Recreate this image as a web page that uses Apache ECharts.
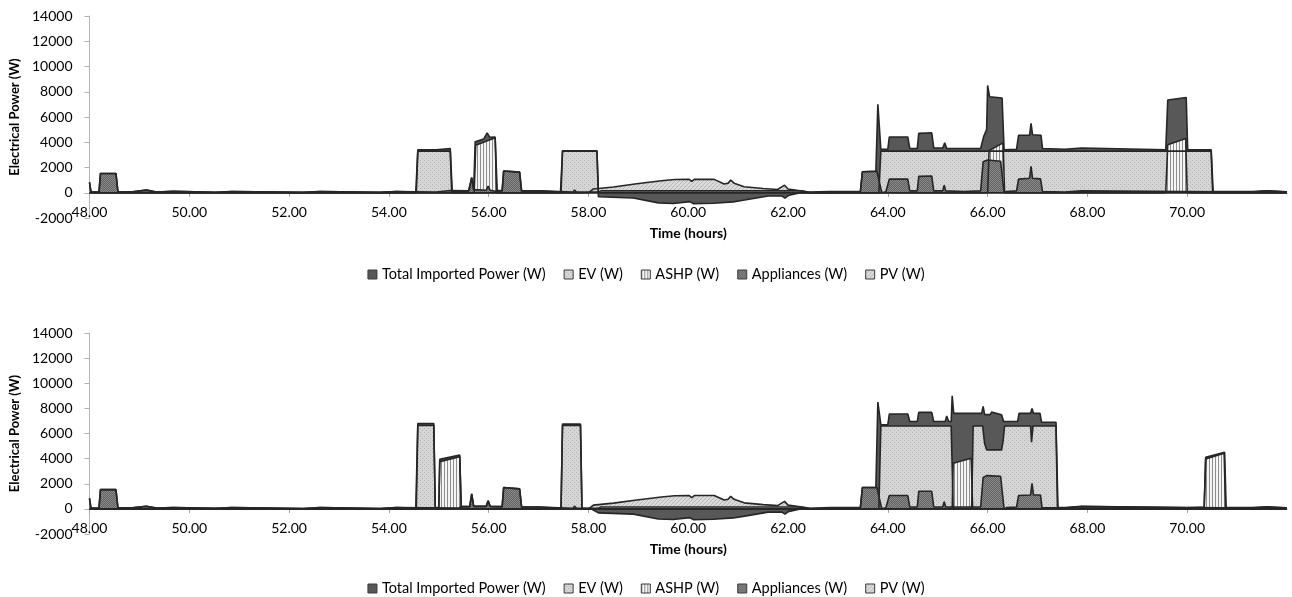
<!DOCTYPE html>
<html>
<head>
<meta charset="utf-8">
<script src="https://cdn.jsdelivr.net/npm/echarts@6/dist/echarts.min.js"></script>
<style>
html,body{margin:0;padding:0;background:#fff;}
#chart{width:1292px;height:597px;}
</style>
</head>
<body>
<div id="chart"></div>
<script>
// ---------- DATA ----------
const seriesNames = ['Total Imported Power (W)', 'EV (W)', 'ASHP (W)', 'Appliances (W)', 'PV (W)'];
const yTicks = [-2000, 0, 2000, 4000, 6000, 8000, 10000, 12000, 14000];
const xTicks = [48, 50, 52, 54, 56, 58, 60, 62, 64, 66, 68, 70];

// Top panel  [time (h), power (W)]
const topTotal = [[48.00,850],[48.03,60],[48.19,60],[48.22,1530],[48.53,1530],[48.57,80],[48.86,80],[48.88,210],[49.14,210],[49.16,60],[49.34,60],[49.36,110],[49.68,110],[49.70,40],[50.53,40],[50.55,100],[50.85,100],[50.87,30],[52.29,30],[52.31,100],[52.62,100],[52.64,30],[53.82,30],[53.84,100],[54.15,100],[54.17,60],[54.54,60],[54.58,3400],[54.95,3400],[54.97,3500],[55.23,3500],[55.27,100],[55.60,150],[55.66,1200],[55.70,250],[55.73,4030],[55.90,4250],[55.97,4740],[56.02,4400],[56.13,4420],[56.17,200],[56.27,150],[56.30,1720],[56.62,1630],[56.66,150],[57.00,150],[57.04,50],[57.44,50],[57.48,3320],[58.17,3320],[58.20,-320],[58.90,-420],[59.40,-800],[59.70,-850],[60.03,-700],[60.10,-860],[60.50,-830],[60.90,-720],[61.13,-580],[61.60,-260],[61.88,-260],[61.94,-420],[62.00,-220],[62.25,0],[62.80,0],[62.84,100],[63.45,100],[63.49,1660],[63.76,1700],[63.80,7000],[63.86,3450],[64.00,3450],[64.03,4420],[64.40,4420],[64.44,3500],[64.59,3500],[64.62,4700],[64.88,4750],[64.92,3550],[65.10,3550],[65.14,3950],[65.18,3500],[65.86,3500],[65.92,4450],[65.98,5000],[66.00,8500],[66.04,7600],[66.29,7500],[66.33,3400],[66.58,3450],[66.62,4550],[66.84,4550],[66.87,5500],[66.90,4600],[67.07,4550],[67.10,3500],[67.55,3450],[67.58,3550],[67.88,3550],[67.91,3400],[69.57,3400],[69.61,7350],[69.98,7550],[70.01,3400],[70.48,3400],[70.52,100],[71.30,100],[71.33,160],[71.60,160],[71.63,80],[72.00,80]];
const topEV = [[48,0],[54.55,0],[54.58,3300],[55.23,3300],[55.26,0],[57.45,0],[57.48,3300],[58.17,3300],[58.20,0],[63.82,0],[63.86,3300],[70.48,3300],[70.51,0],[72,0]];
const topASHP = [[48,0],[55.71,0],[55.74,3770],[56.13,4350],[56.16,0],[66.00,0],[66.03,3350],[66.31,3950],[66.34,0],[69.57,0],[69.61,3800],[69.97,4300],[70.00,0],[72,0]];
const topApp = [[48.00,800],[48.03,50],[48.19,50],[48.22,1530],[48.53,1530],[48.57,80],[48.86,80],[48.88,210],[49.14,210],[49.16,60],[49.34,60],[49.36,110],[49.68,110],[49.70,40],[50.53,40],[50.55,100],[50.85,100],[50.87,30],[52.29,30],[52.31,100],[52.62,100],[52.64,30],[53.82,30],[53.84,100],[54.15,100],[54.17,60],[54.95,60],[54.97,180],[55.23,180],[55.27,100],[55.60,150],[55.66,1200],[55.70,250],[55.95,200],[55.99,530],[56.03,200],[56.14,120],[56.27,150],[56.30,1720],[56.62,1630],[56.66,150],[57.00,150],[57.04,50],[57.69,50],[57.72,220],[57.76,50],[58.20,50],[58.25,150],[62.25,150],[62.40,50],[62.84,100],[63.45,100],[63.49,1660],[63.78,1700],[63.88,0],[63.96,80],[64.00,80],[64.03,1080],[64.40,1080],[64.44,150],[64.59,150],[64.62,1300],[64.88,1330],[64.92,150],[65.10,150],[65.13,600],[65.16,150],[65.52,100],[65.86,150],[65.91,2450],[66.00,2600],[66.26,2500],[66.33,0],[66.38,100],[66.58,150],[66.62,1080],[66.84,1150],[66.87,2100],[66.90,1150],[67.06,1100],[67.10,100],[67.55,60],[67.58,150],[67.88,150],[67.91,60],[71.30,60],[71.33,150],[71.60,150],[71.63,60],[72,60]];
const topPV = [[48,0],[58.00,0],[58.03,120],[58.10,300],[58.50,460],[58.93,690],[59.46,950],[59.73,1050],[60.02,1060],[60.07,900],[60.12,1060],[60.52,1060],[60.72,700],[60.80,760],[60.85,1000],[60.92,760],[61.12,480],[61.50,340],[61.79,260],[61.93,600],[62.00,300],[62.38,80],[62.45,0],[72,0]];

// Bottom panel  [time (h), power (W)]
const botTotal = [[48.00,850],[48.03,60],[48.19,60],[48.22,1530],[48.53,1530],[48.57,80],[48.86,80],[48.88,210],[49.14,210],[49.16,60],[49.34,60],[49.36,110],[49.68,110],[49.70,40],[50.53,40],[50.55,100],[50.85,100],[50.87,30],[52.29,30],[52.31,100],[52.62,100],[52.64,30],[53.82,30],[53.84,100],[54.15,100],[54.17,60],[54.54,60],[54.58,6800],[54.90,6800],[54.93,100],[55.00,100],[55.02,3940],[55.42,4290],[55.45,180],[55.62,180],[55.66,1190],[55.70,200],[55.95,200],[55.99,640],[56.03,200],[56.27,180],[56.30,1700],[56.62,1590],[56.66,150],[57.00,150],[57.04,50],[57.45,50],[57.48,6750],[57.84,6750],[57.87,60],[58.05,0],[58.20,-320],[58.90,-420],[59.40,-800],[59.70,-850],[60.03,-700],[60.10,-860],[60.50,-830],[60.90,-720],[61.13,-580],[61.60,-260],[61.88,-260],[61.94,-420],[62.00,-220],[62.25,0],[62.80,0],[62.84,100],[63.45,100],[63.49,1700],[63.76,1700],[63.80,8500],[63.86,6700],[64.00,6700],[64.03,7550],[64.40,7550],[64.44,6950],[64.59,6950],[64.62,7680],[64.88,7680],[64.92,6950],[65.15,6950],[65.18,7400],[65.22,6950],[65.27,6950],[65.29,9000],[65.32,7600],[65.88,7600],[65.91,8150],[65.94,7500],[66.05,7500],[66.08,7700],[66.28,7500],[66.32,6950],[66.60,6950],[66.63,7600],[66.86,7600],[66.89,8000],[66.92,7600],[67.05,7600],[67.08,6900],[67.37,6900],[67.41,100],[67.55,100],[67.58,200],[67.88,200],[67.91,80],[70.00,80],[70.02,150],[70.34,150],[70.37,4100],[70.75,4500],[70.78,100],[71.30,100],[71.33,160],[71.60,160],[71.63,80],[72.00,80]];
const botEV = [[48,0],[54.55,0],[54.58,6650],[54.90,6650],[54.93,0],[57.45,0],[57.48,6650],[57.84,6650],[57.87,0],[63.82,0],[63.86,6600],[65.27,6600],[65.31,0],[65.68,0],[65.71,6600],[65.90,6600],[65.94,5200],[65.98,4700],[66.28,4700],[66.31,5400],[66.34,6600],[66.86,6600],[66.88,5300],[66.91,6600],[67.37,6600],[67.40,0],[72,0]];
const botASHP = [[48,0],[55.00,0],[55.02,3760],[55.42,4160],[55.45,0],[65.29,0],[65.31,3630],[65.67,4030],[65.70,0],[70.34,0],[70.37,3975],[70.74,4430],[70.77,0],[72,0]];
const botApp = [[48.00,800],[48.03,50],[48.19,50],[48.22,1530],[48.53,1530],[48.57,80],[48.86,80],[48.88,210],[49.14,210],[49.16,60],[49.34,60],[49.36,110],[49.68,110],[49.70,40],[50.53,40],[50.55,100],[50.85,100],[50.87,30],[52.29,30],[52.31,100],[52.62,100],[52.64,30],[53.82,30],[53.84,100],[54.15,100],[54.17,60],[55.40,60],[55.45,180],[55.62,180],[55.66,1190],[55.70,200],[55.95,200],[55.99,640],[56.03,200],[56.27,180],[56.30,1700],[56.62,1590],[56.66,150],[57.00,150],[57.04,50],[57.69,50],[57.72,220],[57.76,50],[58.20,50],[58.25,150],[62.25,150],[62.40,50],[62.84,100],[63.45,100],[63.49,1700],[63.78,1700],[63.88,0],[63.96,80],[64.00,80],[64.03,1060],[64.40,1060],[64.44,150],[64.59,150],[64.62,1400],[64.88,1400],[64.92,150],[65.10,150],[65.13,580],[65.16,150],[65.86,150],[65.91,2500],[65.98,2650],[66.26,2600],[66.33,0],[66.38,100],[66.58,150],[66.62,1060],[66.86,1100],[66.89,2040],[66.92,1100],[67.06,1100],[67.09,100],[67.55,60],[67.58,180],[67.88,180],[67.91,60],[71.30,60],[71.33,150],[71.60,150],[71.63,60],[72,60]];
const botPV = [[48,0],[58.00,0],[58.03,120],[58.10,300],[58.50,460],[58.93,690],[59.46,950],[59.73,1050],[60.02,1060],[60.07,900],[60.12,1060],[60.52,1060],[60.72,700],[60.80,760],[60.85,1000],[60.92,760],[61.12,480],[61.50,340],[61.79,260],[61.93,600],[62.00,300],[62.38,80],[62.45,0],[72,0]];

// ---------- STYLE ----------
function makePattern(size, bg, draw) {
  const c = document.createElement('canvas');
  c.width = size; c.height = size;
  const g = c.getContext('2d');
  g.fillStyle = bg; g.fillRect(0, 0, size, size);
  draw(g);
  return { image: c, repeat: 'repeat' };
}
const fills = [
  '#585858',
  makePattern(4, '#d5d5d5', g => { g.fillStyle = '#b3b3b3'; g.fillRect(0,0,1,1); g.fillRect(2,2,1,1); }),
  makePattern(3, '#f5f5f5', g => { g.fillStyle = '#8e8e8e'; g.fillRect(0,0,1,3); }),
  makePattern(2, '#626262', g => { g.fillStyle = '#8a8a8a'; g.fillRect(0,0,1,1); g.fillRect(1,1,1,1); }),
  makePattern(4, '#dadada', g => { g.fillStyle = '#b8b8b8'; g.fillRect(0,3,1,1); g.fillRect(1,2,1,1); g.fillRect(2,1,1,1); g.fillRect(3,0,1,1); })
];
const FONT = 'Lato, "Open Sans", sans-serif';

const panels = [
  { data: [topTotal, topEV, topASHP, topApp, topPV] },
  { data: [botTotal, botEV, botASHP, botApp, botPV] }
];

const grids = [
  { left: 87, right: 5, top: 16, height: 202 },
  { left: 87, right: 5, top: 333, height: 201 }
];
const yMin = yTicks[0], yMax = yTicks[yTicks.length - 1];

const xAxes = grids.map((g, i) => ({
  type: 'value', gridIndex: i, min: xTicks[0], max: 72, interval: 2,
  position: 'bottom',
  // place the time axis where the power axis crosses zero
  offset: -g.height * (0 - yMin) / (yMax - yMin),
  name: 'Time (hours)', nameLocation: 'middle', nameGap: 34,
  nameTextStyle: { fontFamily: FONT, fontWeight: 'bold', fontSize: 14, color: '#000' },
  axisLine: { show: true, onZero: false, lineStyle: { color: '#8c8c8c', width: 1 } },
  axisTick: { show: true, length: 4, lineStyle: { color: '#a0a0a0' } },
  axisLabel: { showMaxLabel: false, margin: 13, fontFamily: FONT, fontSize: 14, color: '#000',
               formatter: v => v.toFixed(2) },
  splitLine: { show: false }
}));
const yAxes = grids.map((g, i) => ({
  type: 'value', gridIndex: i, min: yMin, max: yMax, interval: 2000,
  name: 'Electrical Power (W)', nameLocation: 'middle', nameGap: 67,
  nameTextStyle: { fontFamily: FONT, fontWeight: 'bold', fontSize: 13, color: '#000' },
  axisLine: { show: true, onZero: false, lineStyle: { color: '#b4b4b4', width: 1 } },
  axisTick: { show: true, length: 5, lineStyle: { color: '#b4b4b4' } },
  axisLabel: { margin: 17, fontFamily: FONT, fontSize: 14, color: '#000', formatter: v => String(v) },
  splitLine: { show: false }
}));

const series = [];
panels.forEach((p, pi) => {
  p.data.forEach((d, si) => {
    series.push({
      name: seriesNames[si], type: 'line', xAxisIndex: pi, yAxisIndex: pi,
      data: d, symbol: 'none', showSymbol: false, animation: false, silent: true,
      color: '#555',
      lineStyle: { color: '#262626', width: 1.6 },
      areaStyle: { color: fills[si], opacity: 1 }
    });
  });
});

const legendData = seriesNames.map((n, i) => ({
  name: n, icon: 'rect',
  itemStyle: { color: fills[i], borderColor: '#3a3a3a', borderWidth: 1 }
}));
const legends = [262, 576].map(t => ({
  top: t, left: 'center', itemWidth: 9, itemHeight: 9, itemGap: 18,
  selectedMode: false, data: legendData,
  textStyle: { fontFamily: FONT, fontSize: 14.5, color: '#000' }
}));

const chart = echarts.init(document.getElementById('chart'), null, { renderer: 'canvas' });
chart.setOption({
  animation: false,
  backgroundColor: '#fff',
  grid: grids, xAxis: xAxes, yAxis: yAxes,
  legend: legends, series: series
});
</script>
</body>
</html>
